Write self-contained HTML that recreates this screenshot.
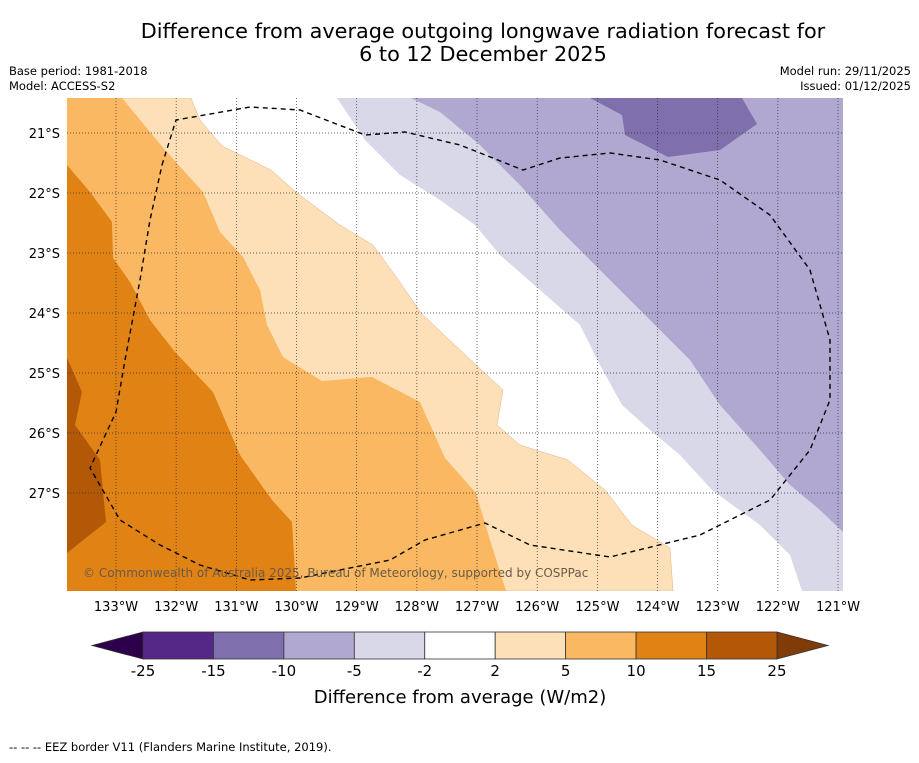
<!DOCTYPE html>
<html><head><meta charset="utf-8"><style>
body{margin:0;background:#fff;width:919px;height:758px;overflow:hidden;font-family:"Liberation Sans","DejaVu Sans",sans-serif}
</style></head><body>
<svg id="s" width="919" height="758" xmlns="http://www.w3.org/2000/svg" font-family="DejaVu Sans, Liberation Sans, sans-serif">
<text x="483" y="38" font-size="20.8" text-anchor="middle">Difference from average outgoing longwave radiation forecast for</text>
<text x="483" y="61" font-size="20.8" text-anchor="middle">6 to 12 December 2025</text>
<text x="9" y="75" font-size="11.5">Base period: 1981-2018</text>
<text x="9" y="90" font-size="11.5">Model: ACCESS-S2</text>
<text x="911" y="75" font-size="11.5" text-anchor="end">Model run: 29/11/2025</text>
<text x="911" y="90" font-size="11.5" text-anchor="end">Issued: 01/12/2025</text>
<defs><clipPath id="mc"><rect x="67" y="98" width="776" height="493"/></clipPath></defs>
<g id="map" clip-path="url(#mc)">
<rect x="67" y="98" width="776" height="493" fill="#b0a8d0"/>
<polygon fill="#7f6fad" points="590,98 622,115 625,135 668,157 720,150 757,124 742,98"/>
<polygon fill="#d8d8e8" points="411,98 440,112 480,145 520,185 560,230 610,280 655,325 690,360 720,405 760,450 790,485 820,510 843,532 843,591 67,591 67,98"/>
<polygon fill="#ffffff" points="337,98 365,140 400,175 440,200 475,225 500,255 540,290 580,325 600,365 622,405 650,430 680,455 712,490 760,525 790,555 802,591 67,591 67,98"/>
<polygon fill="#fde0b8" stroke="#e0b080" stroke-width="0.5" points="191,98 200,120 222,146 271,170 297,193 340,225 373,245 397,278 421,313 460,350 503,390 497,425 520,445 568,460 605,490 632,525 670,548 673,591 67,591 67,98"/>
<polygon fill="#fbb862" points="122,98 165,150 203,192 220,232 243,257 260,290 267,325 283,357 322,381 372,377 420,402 445,458 476,493 490,540 506,591 67,591 67,98"/>
<polygon fill="#e08214" points="67,165 90,192 112,222 113,258 130,282 150,320 175,352 213,392 240,455 272,500 292,522 296,591 67,591"/>
<polygon fill="#b35806" points="67,358 82,392 75,425 100,460 106,522 67,553"/>
<g id="grid"></g>
<path fill="none" stroke="#000" stroke-width="1.4" stroke-dasharray="5,4" d="M162,165 L176,120 L250,107 L300,110 L365,135 L405,132 L460,145 L523,170 L560,158 L610,153 L660,160 L720,180 L770,215 L810,270 L830,340 L830,400 L810,450 L770,500 L700,535 L610,557 L530,545 L485,523 L425,540 L390,560 L300,578 L250,580 L200,565 L160,545 L120,520 L90,468 L116,412 L125,360 L140,280 L150,220 Z"/>
<text x="83" y="577" font-size="12" fill="#6b5a45">© Commonwealth of Australia 2025, Bureau of Meteorology, supported by COSPPac</text>
</g>
<g id="axes"></g>
<g id="cbar"></g>
<text x="460" y="703" font-size="18" text-anchor="middle">Difference from average (W/m2)</text>
<text x="9" y="751" font-size="11.5">--  --  -- EEZ border V11 (Flanders Marine Institute, 2019).</text>
</svg>
<script>
const lonTicks=[133,132,131,130,129,128,127,126,125,124,123,122,121];
const latTicks=[21,22,23,24,25,26,27];
const levels=[-25,-15,-10,-5,-2,2,5,10,15,25];
const binColors=["#552888","#7f6fad","#b0a8d0","#d8d8e8","#ffffff","#fde0b8","#fbb862","#e08214","#b35806"];
const NS="http://www.w3.org/2000/svg";
const xLon=l=>116+(133-l)*60.17;
const yLat=l=>133+(l-21)*60;
function mk(t,a,p){const e=document.createElementNS(NS,t);for(const k in a)e.setAttribute(k,a[k]);p.appendChild(e);return e;}
const grid=document.getElementById('grid'),axes=document.getElementById('axes'),cb=document.getElementById('cbar');
lonTicks.forEach(l=>{const x=xLon(l);
 const g=mk('line',{x1:x,x2:x,y1:98,y2:591,stroke:'#333','stroke-width':0.7,'stroke-dasharray':'1,2'},grid);
 
 
 const t=mk('text',{x:x,y:611,'font-size':13,'text-anchor':'middle'},axes);t.textContent=l+'°W';
 
 });
latTicks.forEach(l=>{const y=yLat(l);
 const g=mk('line',{x1:67,x2:843,y1:y,y2:y,stroke:'#333','stroke-width':0.7,'stroke-dasharray':'1,2'},grid);
 
 
 const t=mk('text',{x:60,y:y+5,'font-size':13,'text-anchor':'end'},axes);t.textContent=l+'°S';
 
 });
const cx0=143,cw=70.44,cy=632,ch=27;
const lo=mk('polygon',{points:`92,645.5 ${cx0},${cy} ${cx0},${cy+ch}`,fill:'#2d004b',stroke:'#333','stroke-width':0.8},cb);


const xe=cx0+cw*binColors.length;
const hi=mk('polygon',{points:`${xe},${cy} 828,645.5 ${xe},${cy+ch}`,fill:'#7f3b08',stroke:'#333','stroke-width':0.8},cb);


binColors.forEach((c,i)=>{const r=mk('rect',{x:cx0+i*cw,y:cy,width:cw,height:ch,fill:c,stroke:'#333','stroke-width':0.8},cb);
 
 });
levels.forEach((v,i)=>{const t=mk('text',{x:cx0+i*cw,y:676,'font-size':15,'text-anchor':'middle'},cb);t.textContent=v;
 
 });
</script>
</body></html>
